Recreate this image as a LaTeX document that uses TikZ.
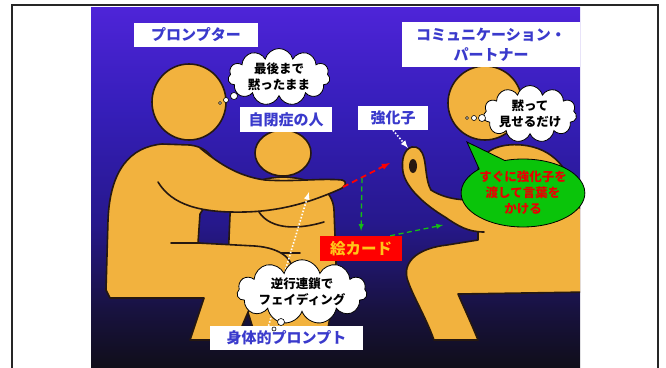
\documentclass[tikz,border=0pt]{standalone}
\usepackage{fontspec}
\usepackage{tikz}
\usetikzlibrary{shapes.symbols,shapes.callouts}
\newfontfamily\jp{Noto Sans CJK JP}

\definecolor{figfill}{RGB}{242,178,62}
\definecolor{figline}{RGB}{38,24,16}
\definecolor{tagblue}{RGB}{58,58,204}
\definecolor{cardred}{RGB}{255,0,0}
\definecolor{cardtext}{RGB}{255,196,24}
\definecolor{saygreen}{RGB}{10,196,10}
\definecolor{sayred}{RGB}{232,0,0}
\definecolor{gazegreen}{RGB}{20,190,20}
\definecolor{bgA}{RGB}{78,36,216}
\definecolor{bgB}{RGB}{54,30,186}
\definecolor{bgC}{RGB}{38,24,140}
\definecolor{bgD}{RGB}{24,18,64}
\definecolor{bgE}{RGB}{16,14,26}
% the path is fitted to the 25bp--75bp part of the shading
\pgfdeclareverticalshading{stage}{100bp}{color(0bp)=(bgE); color(25bp)=(bgE); color(33bp)=(bgD); color(45bp)=(bgC); color(61bp)=(bgB); color(75bp)=(bgA); color(100bp)=(bgA)}

\tikzstyle{fig}=[fill=figfill,draw=figline,line width=1.6pt,line join=round]
\tikzstyle{figedge}=[draw=figline,line width=1.6pt,line cap=round]
\tikzstyle{tag}=[fill=white,text=tagblue,inner sep=0pt,align=center,font=\jp\bfseries\fontsize{15}{20}\selectfont]
\tikzstyle{cardbox}=[fill=cardred,text=cardtext,inner sep=0pt,font=\jp\bfseries\fontsize{15.5}{18}\selectfont]
\tikzstyle{think}=[cloud,cloud puffs=11,cloud ignores aspect,draw=black,fill=white,line width=0.8pt,inner sep=0pt,align=center,font=\jp\bfseries\fontsize{12.5}{16}\selectfont]
\tikzstyle{puff}=[circle,draw=black,fill=white,line width=0.6pt,inner sep=0pt]
\tikzstyle{hintbox}=[ellipse callout,draw=black,fill=saygreen,text=sayred,line width=0.8pt,inner sep=0pt,align=center,font=\jp\bfseries\fontsize{12.5}{16}\selectfont]
\tikzstyle{poke}=[white,line width=1.6pt,dash pattern=on 1.5pt off 1.8pt,-latex]
\tikzstyle{reachline}=[red,line width=1.8pt,dash pattern=on 6pt off 4pt,-latex]
\tikzstyle{gaze}=[gazegreen,line width=1.3pt,dash pattern=on 5pt off 3.5pt,-latex]

\begin{document}
\begin{tikzpicture}[x=1pt,y=-1pt]
\useasboundingbox (0,0) rectangle (666,367);

% background panel
\shade[shading=stage] (91,7) rectangle (580,367);

\begin{scope}
\clip (91,7) rectangle (580,367);
% child, behind the prompter
\filldraw[fig] (228,262) -- (230,215) .. controls (232,190) and (252,178) .. (283,177)
  .. controls (315,178) and (333,190) .. (334,210) -- (336,262)
  .. controls (336,290) and (330,315) .. (326,340) -- (256,340)
  .. controls (250,315) and (240,290) .. (228,262) -- cycle;
\draw[figedge] (259,212) .. controls (268,226) and (290,232) .. (324,222);
\draw[figedge] (268,253) -- (300,253);
\filldraw[fig] (283,153) ellipse (28 and 23);

% prompter
\filldraw[fig] (106,290) -- (108,220) .. controls (110,170) and (130,147) .. (162,144)
  -- (190,145) .. controls (215,148) and (222,170) .. (212,195) -- (200,214) -- (198,243)
  -- (255,246) .. controls (282,248) and (295,260) .. (293,276)
  .. controls (291,290) and (275,296) .. (255,296) -- (236,340) -- (190,340)
  -- (204,298) -- (110,298) -- cycle;
\draw[figedge] (171,243) -- (200,243);
\fill[figfill] (158,182) .. controls (172,205) and (200,213) .. (245,212)
  .. controls (285,211) and (315,200) .. (338,190) .. controls (346,187) and (348,182) .. (342,180)
  .. controls (320,178) and (295,182) .. (265,180) .. controls (235,176) and (215,160) .. (200,148)
  -- (170,150) -- cycle;
\draw[figedge] (158,182) .. controls (172,205) and (200,213) .. (245,212)
  .. controls (285,211) and (315,200) .. (338,190) .. controls (346,187) and (348,182) .. (342,180)
  .. controls (320,178) and (295,182) .. (265,180) .. controls (235,176) and (215,160) .. (200,148);
\filldraw[fig] (189,102) ellipse (37 and 38);

% partner
\filldraw[fig] (478,240) -- (478,170) .. controls (480,150) and (500,143) .. (522,145)
  .. controls (552,148) and (572,168) .. (576,205) -- (590,215) -- (590,292) -- (458,294)
  .. controls (465,310) and (472,325) .. (478,340) -- (434,340)
  .. controls (425,315) and (412,295) .. (407,278) .. controls (403,260) and (420,248) .. (447,245)
  -- cycle;
\fill[figfill] (482,198) .. controls (465,202) and (445,199) .. (431,190)
  .. controls (426,182) and (426,165) .. (424,158) .. controls (422,150) and (418,146) .. (412,147)
  .. controls (404,149) and (401,160) .. (403,172) .. controls (406,188) and (425,205) .. (445,217)
  .. controls (458,226) and (468,232) .. (484,232) -- cycle;
\draw[figedge] (482,198) .. controls (465,202) and (445,199) .. (431,190)
  .. controls (426,182) and (426,165) .. (424,158) .. controls (422,150) and (418,146) .. (412,147)
  .. controls (404,149) and (401,160) .. (403,172) .. controls (406,188) and (425,205) .. (445,217)
  .. controls (458,226) and (468,232) .. (484,232);
\fill[figline] (413,166) ellipse (4 and 7);
\filldraw[fig] (485,103) ellipse (37 and 37);
\end{scope}

% arrow ends
\coordinate (treat) at (408,148);
\coordinate (fingertip) at (343,187);
\coordinate (reach) at (390,163);
\coordinate (look) at (362,178);
\coordinate (partnerhand) at (443,225);
\coordinate (pushpt) at (309,192);

% labels
\node[tag,minimum width=124pt,minimum height=24pt] at (196,35) (prompter) {プロンプター};
\node[tag,minimum width=178pt,minimum height=45pt] at (491,44.5) (partner) {コミュニケーション・\\パートナー};
\node[tag,minimum width=92pt,minimum height=25pt] at (286,119.5) (child) {自閉症の人};
\node[tag,minimum width=70pt,minimum height=24pt] at (393,118) (reinf) {強化子};
\node[tag,minimum width=153pt,minimum height=24pt] at (286.5,338) (physical) {身体的プロンプト};
\node[cardbox,minimum width=82pt,minimum height=25pt] at (361,248.5) (card) {絵カード};

\draw[poke] (reinf.south) -- (treat);
\draw[reachline] (fingertip) -- (reach);
\draw[gaze,shorten >=5pt] (look) -- (card.north);
\draw[gaze] ([xshift=-12pt]card.north east) -- (partnerhand);
\draw[poke] ([xshift=-18pt]physical.north) -- (pushpt);

% thought clouds
\node[think,minimum width=102pt,minimum height=53pt] at (279,77) (silent) {最後まで\\黙ったまま};
\node[puff,minimum size=3pt] at (220,103) (silentA) {};
\node[puff,minimum size=5pt] at (226,100) (silentB) {};
\node[puff,minimum size=7pt] at (234,96) (silentC) {};

\node[think,minimum width=86pt,minimum height=52pt] at (530,114) (show) {黙って\\見せるだけ};
\node[puff,minimum size=3pt] at (467,118) (showA) {};
\node[puff,minimum size=5pt] at (474,118) (showB) {};
\node[puff,minimum size=7pt] at (482,118) (showC) {};

\node[think,minimum width=130pt,minimum height=55pt] at (302,292) (fade) {逆行連鎖で\\フェイディング};
\node[puff,minimum size=4pt] at (274,329) (fadeA) {};
\node[puff,minimum size=7pt] at (281,322) (fadeB) {};

% speech callout
\node[hintbox,minimum width=112pt,minimum height=68pt,callout absolute pointer={(467,142)},callout pointer arc=28] at (523,193) (hint) {すぐに強化子を\\渡して言葉を\\かける};

% frame
\draw[line width=2pt,black!85] (12,380) -- (12,5) -- (657.5,5) -- (657.5,380);
\end{tikzpicture}
\end{document}
